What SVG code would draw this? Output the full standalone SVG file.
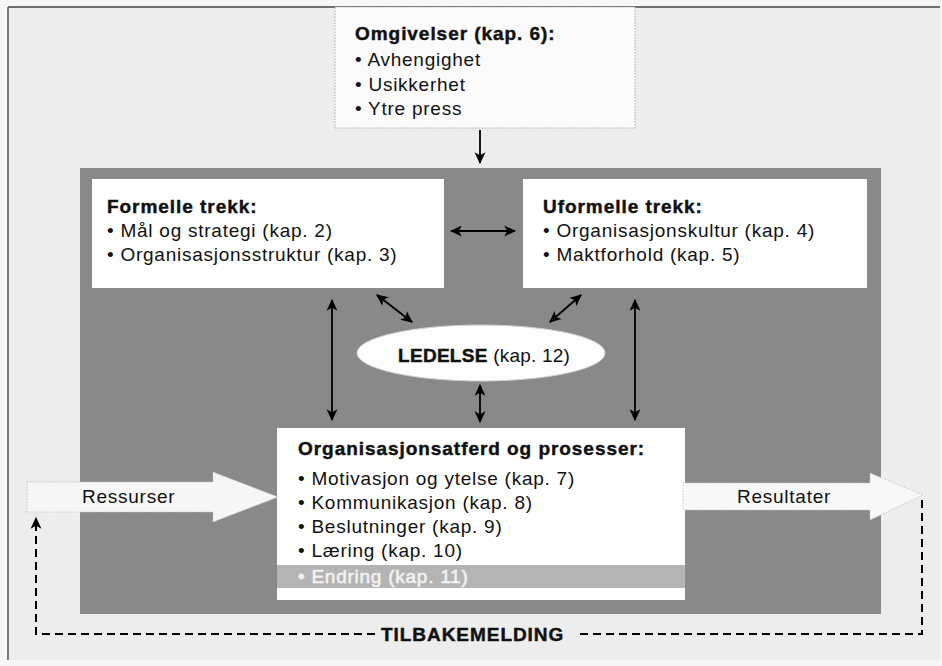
<svg xmlns="http://www.w3.org/2000/svg" width="942" height="666" viewBox="0 0 942 666">
  <style>
    .t { font-family: "Liberation Sans", Arial, sans-serif; font-size: 19px; letter-spacing: 0.75px; fill: #111; }
    .b { font-weight: bold; letter-spacing: 0.95px; stroke: #111; stroke-width: 0.45; }
    .box { fill: #ffffff; }
    .conn { stroke: #000; stroke-width: 1.8; fill: none; }
    .dash { stroke: #000; stroke-width: 2; fill: none; stroke-dasharray: 8 5; }
  </style>
  <defs>
    <marker id="ahs" viewBox="0 0 10 10" refX="9" refY="5" markerWidth="12" markerHeight="12" orient="auto-start-reverse" markerUnits="userSpaceOnUse">
      <path d="M0,0.5 L10,5 L0,9.5 L2.5,5 z" fill="#000"/>
    </marker>
  </defs>

  <!-- background -->
  <rect x="0" y="0" width="942" height="666" fill="#f7f7f7"/>
  <rect x="8" y="7" width="932" height="653" fill="#ededed"/>
  <line x1="8" y1="7" x2="940" y2="7" stroke="#444" stroke-width="1.5"/>
  <line x1="8" y1="7" x2="8" y2="660" stroke="#555" stroke-width="1.5"/>

  <!-- dark organisation area -->
  <rect id="organisasjon" x="80" y="168" width="801" height="446" fill="#898989"/>

  <g id="omgivelser">
    <rect x="335" y="7" width="300" height="121" fill="#fbfbfb" stroke="#aaa" stroke-width="1" stroke-dasharray="1.5 1.5"/>
    <text class="t b" x="355" y="40">Omgivelser (kap. 6):</text>
    <text class="t" x="355" y="66">• Avhengighet</text>
    <text class="t" x="355" y="91">• Usikkerhet</text>
    <text class="t" x="355" y="115">• Ytre press</text>
  </g>

  <g id="formelle">
    <rect class="box" x="92" y="179" width="352" height="109"/>
    <text class="t b" x="107" y="213">Formelle trekk:</text>
    <text class="t" x="107" y="237">• Mål og strategi (kap. 2)</text>
    <text class="t" x="107" y="261">• Organisasjonsstruktur (kap. 3)</text>
  </g>

  <g id="uformelle">
    <rect class="box" x="523" y="179" width="344" height="109"/>
    <text class="t b" x="543" y="213">Uformelle trekk:</text>
    <text class="t" x="543" y="237">• Organisasjonskultur (kap. 4)</text>
    <text class="t" x="543" y="261">• Maktforhold (kap. 5)</text>
  </g>

  <g id="ledelse">
    <ellipse cx="481" cy="353" rx="124" ry="28" fill="#fdfdfd" stroke="#d0d0d0" stroke-width="1"/>
    <text class="t" x="398" y="362" style="letter-spacing:0.2px"><tspan class="b" style="letter-spacing:0.3px">LEDELSE</tspan> (kap. 12)</text>
  </g>

  <g id="prosesser">
    <rect class="box" x="277" y="428" width="408" height="172"/>
    <rect x="277" y="565" width="408" height="23" fill="#b4b4b4"/>
    <text class="t b" x="298" y="455">Organisasjonsatferd og prosesser:</text>
    <text class="t" x="298" y="485">• Motivasjon og ytelse (kap. 7)</text>
    <text class="t" x="298" y="509">• Kommunikasjon (kap. 8)</text>
    <text class="t" x="298" y="533">• Beslutninger (kap. 9)</text>
    <text class="t" x="298" y="557">• Læring (kap. 10)</text>
    <text class="t" x="298" y="583" style="fill:#f4f4f4;stroke:#eeeeee;stroke-width:0.7">• Endring (kap. 11)</text>
  </g>

  <g id="ressurser">
    <polygon points="27,482 213,482 213,472 278,497 213,522 213,512 27,512" fill="#f6f6f6" stroke="#c4c4c4" stroke-width="1" stroke-dasharray="1.5 1.5"/>
    <text class="t" x="82" y="503">Ressurser</text>
  </g>

  <g id="resultater">
    <polygon points="683,483 870,483 870,473 923,495 870,520 870,510 683,510" fill="#f8f8f8" stroke="#c8c8c8" stroke-width="1" stroke-dasharray="1.5 1.5"/>
    <text class="t" x="737" y="503">Resultater</text>
  </g>

  <g id="tilbakemelding">
    <text class="t b" x="381" y="641">TILBAKEMELDING</text>
  </g>

  <g id="connectors">
    <line class="conn" x1="480" y1="130" x2="480" y2="163" marker-end="url(#ahs)"/>
    <line class="conn" x1="451" y1="231" x2="515" y2="231" marker-start="url(#ahs)" marker-end="url(#ahs)"/>
    <line class="conn" x1="377" y1="295" x2="412" y2="322" marker-start="url(#ahs)" marker-end="url(#ahs)"/>
    <line class="conn" x1="581" y1="295" x2="550" y2="322" marker-start="url(#ahs)" marker-end="url(#ahs)"/>
    <line class="conn" x1="332" y1="300" x2="332" y2="420" marker-start="url(#ahs)" marker-end="url(#ahs)"/>
    <line class="conn" x1="635" y1="300" x2="635" y2="420" marker-start="url(#ahs)" marker-end="url(#ahs)"/>
    <line class="conn" x1="480" y1="385" x2="480" y2="422" marker-start="url(#ahs)" marker-end="url(#ahs)"/>
    <polyline class="dash" points="375,634 36,634 36,518" marker-end="url(#ahs)"/>
    <polyline class="dash" points="580,634 922,634 922,498"/>
  </g>
</svg>
